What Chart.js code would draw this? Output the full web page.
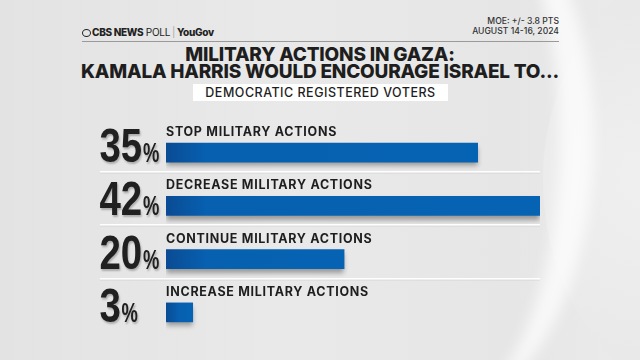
<!DOCTYPE html>
<html>
<head>
<meta charset="utf-8">
<script src="https://cdn.jsdelivr.net/npm/chart.js@4.4.1/dist/chart.umd.min.js"></script>
<style>
  html, body { margin: 0; padding: 0; }
  body {
    width: 640px; height: 360px; overflow: hidden; position: relative;
    background: linear-gradient(90deg, #e3e3e3 0%, #e9e9e9 45%, #e6e6e6 80%, #ebebeb 100%);
    font-family: "Inter", "Open Sans", sans-serif;
  }
  .bg { position: absolute; pointer-events: none; }
  #circle {
    left: 543px; top: -60px; width: 420px; height: 480px; border-radius: 50%;
    background: radial-gradient(ellipse at 30% 50%, #f0f0f0 0%, #e8e8e8 60%, #e0e0e0 100%);
  }
  #swoosh {
    left: 290px; top: -130px; width: 270px; height: 540px; border-radius: 50%;
    border-right: 34px solid rgba(255,255,255,0.7);
    filter: blur(7px);
  }
  #hdr { position: absolute; left: 82px; top: 26px; font-size: 10px; color: #222; white-space: nowrap; letter-spacing: -0.3px; }
  #hdr b { font-weight: 800; }
  #hdr .light { font-weight: 400; }
  #hdr .sep { color: #aaa; margin: 0 2px; }
  #hdr .eye { display: inline-block; width: 9px; height: 8px; border-radius: 50%; border: 1.8px solid #222; box-sizing: border-box; vertical-align: -1px; margin-right: 1px; }
  #moe { position: absolute; right: 81px; top: 17px; font-size: 8.6px; line-height: 9.5px; text-align: right; color: #333; font-weight: 500; }
  #rule { position: absolute; left: 82px; width: 477px; top: 41px; height: 1px; background: #9a9a9a; }
  #title { position: absolute; left: 0; width: 640px; top: 47px; text-align: center; font-size: 19px; line-height: 16.5px; font-weight: 800; color: #1e1e1e; letter-spacing: -0.2px; }
  #sub { position: absolute; left: 193px; width: 255px; top: 84px; height: 17px; background: #fff; text-align: center; font-size: 12.5px; line-height: 18px; color: #1e1e1e; font-weight: 500; letter-spacing: 0.5px; }
  #wrap { position: absolute; left: 0; top: 0; width: 640px; height: 360px; }
</style>
</head>
<body>
<div class="bg" id="circle"></div>
<div class="bg" id="swoosh"></div>
<div id="hdr"><span class="eye"></span><b>CBS NEWS</b> <span class="light">POLL</span><span class="sep">|</span><b>YouGov</b></div>
<div id="moe">MOE: +/- 3.8 PTS<br>AUGUST 14-16, 2024</div>
<div id="rule"></div>
<div id="title">MILITARY ACTIONS IN GAZA:<br>KAMALA HARRIS WOULD ENCOURAGE ISRAEL TO...</div>
<div id="sub">DEMOCRATIC REGISTERED VOTERS</div>
<div id="wrap"><canvas id="chart" width="640" height="360"></canvas></div>
<script>
const categories = ['STOP MILITARY ACTIONS', 'DECREASE MILITARY ACTIONS', 'CONTINUE MILITARY ACTIONS', 'INCREASE MILITARY ACTIONS'];
const values = [35, 42, 20, 3];
const valueLabels = ['35', '42', '20', '3'];

const barHeight = 19;

// gradient per bar, darker at the left end
function barColor(context) {
  const chart = context.chart;
  if (!chart.chartArea || context.parsed === undefined) return '#0762b3';
  const x0 = chart.scales.x.getPixelForValue(0);
  const x1 = chart.scales.x.getPixelForValue(context.parsed.x);
  const g = chart.ctx.createLinearGradient(x0, 0, x1, 0);
  g.addColorStop(0, '#0a4b94');
  g.addColorStop(Math.min(0.5, 40 / Math.max(1, x1 - x0)), '#0760b0');
  g.addColorStop(1, '#0663b3');
  return g;
}

const decorPlugin = {
  id: 'decor',
  beforeDatasetsDraw(chart) {
    const ctx = chart.ctx;
    ctx.save();
    ctx.shadowColor = 'rgba(0,0,0,0.35)';
    ctx.shadowOffsetY = 4;
    ctx.shadowBlur = 5;
  },
  afterDatasetsDraw(chart) {
    chart.ctx.restore();
  },
  afterDraw(chart) {
    const ctx = chart.ctx;
    const y = chart.scales.y;
    const x0 = chart.scales.x.getPixelForValue(0);
    categories.forEach((name, i) => {
      const cy = y.getPixelForValue(i);
      // separator line under each row
      if (i < categories.length - 1) {
        const ly = Math.round(cy + 18.5) + 0.5;
        ctx.fillStyle = 'rgba(0,0,0,0.07)';
        ctx.fillRect(100, ly + 1, 440, 1);
        ctx.fillStyle = 'rgba(255,255,255,0.95)';
        ctx.fillRect(100, ly - 0.5, 440, 1.5);
      }
      // row label above the bar
      ctx.save();
      ctx.fillStyle = '#1e1e1e';
      ctx.font = '700 12.5px Inter, "Open Sans", sans-serif';
      ctx.letterSpacing = '0.7px';
      ctx.textBaseline = 'alphabetic';
      ctx.textAlign = 'left';
      ctx.fillText(name, x0, cy - 16.5);
      ctx.restore();
      // big condensed number + percent sign
      ctx.save();
      ctx.fillStyle = '#202020';
      ctx.shadowColor = 'rgba(0,0,0,0.25)';
      ctx.shadowOffsetX = 1;
      ctx.shadowOffsetY = 2;
      ctx.shadowBlur = 2;
      ctx.translate(101, cy + 9.5);
      ctx.scale(0.8, 1);
      ctx.font = 'bold 48px "Liberation Sans", Arial, sans-serif';
      ctx.textBaseline = 'alphabetic';
      ctx.fillText(valueLabels[i], -2, 0);
      const w = ctx.measureText(valueLabels[i]).width;
      ctx.scale(0.85, 1);
      ctx.font = 'bold 27px "Liberation Sans", Arial, sans-serif';
      ctx.fillText('%', (w - 1) / 0.85, 0);
      ctx.restore();
    });
  }
};

new Chart(document.getElementById('chart'), {
  type: 'bar',
  data: {
    labels: categories,
    datasets: [{
      data: values,
      backgroundColor: barColor,
      borderWidth: 0,
      barThickness: barHeight
    }]
  },
  options: {
    indexAxis: 'y',
    responsive: false,
    animation: false,
    layout: { padding: { left: 166, right: 100, top: 126, bottom: 21 } },
    scales: {
      x: { display: false, min: 0, max: 42 },
      y: { display: false }
    },
    plugins: {
      legend: { display: false },
      tooltip: { enabled: false },
      title: { display: false }
    }
  },
  plugins: [decorPlugin]
});
</script>
</body>
</html>
